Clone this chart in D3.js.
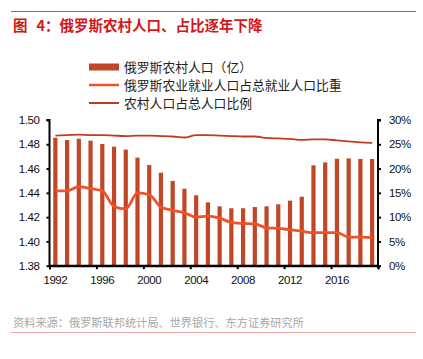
<!DOCTYPE html>
<html><head><meta charset="utf-8">
<script src="https://cdn.jsdelivr.net/npm/d3@7/dist/d3.min.js"></script>
<style>
html,body{margin:0;padding:0;background:#fff;}
svg text{font-family:"Liberation Sans",Arial,sans-serif;}
.cjk{font-family:"Noto Sans CJK SC","Liberation Sans",sans-serif;}
</style></head>
<body><svg id="c" width="423" height="359"></svg>
<script>
const years = d3.range(1992, 2020).map(String);
const ruralPop = [1.4854,1.4835,1.4846,1.4830,1.4802,1.4780,1.4756,1.4690,1.4629,1.4566,1.4498,1.4434,1.4380,1.4322,1.4289,1.4273,1.4273,1.4283,1.4289,1.4306,1.4336,1.4368,1.4627,1.4651,1.4681,1.4684,1.4679,1.4679];
const agriEmpShare = [15.4,15.4,16.3,15.9,15.4,12.2,11.7,15.0,14.6,12.1,11.4,10.9,10.0,10.2,9.8,8.9,8.7,8.6,7.8,7.7,7.4,7.1,6.8,6.8,6.8,5.9,5.9,5.8];
const ruralShare = [26.8,26.9,27.0,26.9,26.9,26.8,26.7,26.8,26.8,26.7,26.6,26.4,26.9,26.9,26.8,26.7,26.6,26.6,26.3,26.2,26.1,25.9,26.0,26.0,25.8,25.6,25.4,25.3];
const leftTicks = [1.38,1.40,1.42,1.44,1.46,1.48,1.50];
const rightTicks = [0,5,10,15,20,25,30];
const xLabelYears = ["1992","1996","2000","2004","2008","2012","2016"];
const legendNames = ["俄罗斯农村人口（亿）","俄罗斯农业就业人口占总就业人口比重","农村人口占总人口比例"];
const titleParts = ["图", "4：俄罗斯农村人口、占比逐年下降"];
const sourceText = "资料来源：俄罗斯联邦统计局、世界银行、东方证券研究所";

const colBar = "#C04828", colEmp = "#F2522A", colRural = "#C23A22";
const svg = d3.select("#c");
const L = 49.5, R = 378, T = 120, B = 265.7;

// header / footer rules
svg.append("line").attr("x1",11).attr("x2",416).attr("y1",11.5).attr("y2",11.5).attr("stroke","#E04848").attr("stroke-width",1);
const tt = svg.append("text").attr("class","cjk").attr("x",13).attr("y",31).attr("font-size",14.5).attr("font-weight","bold").attr("fill","#D01818");
tt.append("tspan").text(titleParts[0]);
tt.append("tspan").attr("dx",9).text(titleParts[1]);
svg.append("text").attr("class","cjk").attr("x",13).attr("y",326.5).attr("font-size",11.2).attr("fill","#A8A8A8").text(sourceText);
svg.append("line").attr("x1",11).attr("x2",416).attr("y1",332.5).attr("y2",332.5).attr("stroke","#E8A4A4").attr("stroke-width",1);

const x = d3.scaleBand().domain(years).range([L,R]).paddingInner(0.64).paddingOuter(0.32);
const yL = d3.scaleLinear().domain([1.38,1.50]).range([B,T]);
const yR = d3.scaleLinear().domain([0,30]).range([B,T]);

// bars
svg.append("g").selectAll("rect").data(years).join("rect")
  .attr("x",d=>x(d)).attr("width",x.bandwidth())
  .attr("y",(d,i)=>yL(ruralPop[i])).attr("height",(d,i)=>B-yL(ruralPop[i]))
  .attr("fill",colBar);

// lines
const cx = d=>x(d)+x.bandwidth()/2;
const lineR = d3.line().x((d,i)=>cx(years[i])).y(d=>yR(d)).curve(d3.curveMonotoneX);
svg.append("path").datum(ruralShare).attr("d",lineR).attr("fill","none").attr("stroke",colRural).attr("stroke-width",1.8);
svg.append("path").datum(agriEmpShare).attr("d",lineR).attr("fill","none").attr("stroke",colEmp).attr("stroke-width",2.8).attr("stroke-linejoin","round");

// axes
const gl = svg.append("g").attr("transform",`translate(${L},0)`)
  .call(d3.axisLeft(yL).tickValues(leftTicks).tickFormat(d3.format(".2f")).tickSize(3).tickPadding(7));
const gr = svg.append("g").attr("transform",`translate(${R},0)`)
  .call(d3.axisRight(yR).tickValues(rightTicks).tickFormat(d=>d+"%").tickSize(3).tickPadding(8));
const gb = svg.append("g").attr("transform",`translate(0,${B})`)
  .call(d3.axisBottom(x).tickValues(xLabelYears).tickSize(0).tickPadding(10));
const bnd = d3.scaleLinear().domain([0,years.length]).range([L,R]);
const gbt = svg.append("g").attr("transform",`translate(0,${B})`)
  .call(d3.axisBottom(bnd).tickValues(d3.range(0,years.length+1,4)).tickFormat("").tickSize(3.5));
[gl,gr,gb,gbt].forEach(g=>{
  g.select(".domain").attr("stroke","#000").attr("stroke-width",2);
  g.selectAll(".tick line").attr("stroke","#000").attr("stroke-width",2);
  g.selectAll(".tick text").attr("font-size",11.5).attr("fill","#111").attr("font-family","Liberation Sans, Arial, sans-serif").attr("letter-spacing",-0.4);
});
gb.select(".domain").attr("d",`M${L},0H${R}`);
gl.select(".domain").attr("d",`M-3,${T}H0V${B}`);
gr.select(".domain").attr("d",`M3,${T}H0V${B}`);

// legend
const lg = svg.append("g");
const ly = [67,85,103];
lg.append("rect").attr("x",89).attr("y",ly[0]-3.5).attr("width",30).attr("height",7).attr("fill",colBar);
lg.append("line").attr("x1",89).attr("x2",119).attr("y1",ly[1]).attr("y2",ly[1]).attr("stroke",colEmp).attr("stroke-width",2.5);
lg.append("line").attr("x1",89).attr("x2",119).attr("y1",ly[2]).attr("y2",ly[2]).attr("stroke",colRural).attr("stroke-width",2);
legendNames.forEach((n,i)=>{
  lg.append("text").attr("class","cjk").attr("x",124).attr("y",ly[i]).attr("dy","0.36em").attr("font-size",12.8).attr("fill","#222").text(n);
});
</script></body></html>
